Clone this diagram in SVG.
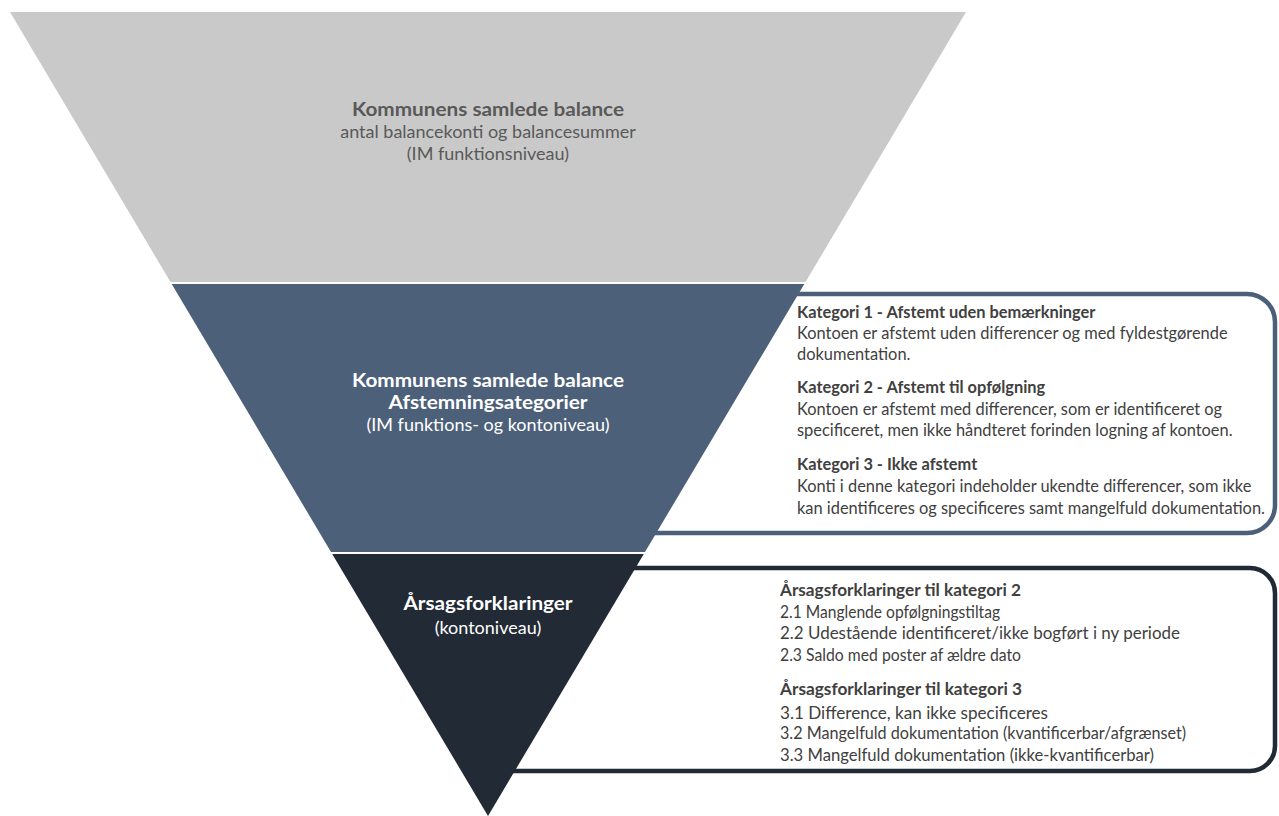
<svg xmlns="http://www.w3.org/2000/svg" width="1279" height="816" viewBox="0 0 1279 816">
<style>
text{font-family:Lato,"Open Sans","Liberation Sans",sans-serif}
.c{text-anchor:middle}
.b{font-weight:bold}
.tg{fill:#595959}
.tw{fill:#ffffff}
.h{font-size:19.5px}
.s{font-size:18px}
.bt{fill:#404040;font-size:16.4px}
.ct{fill:#404040;font-size:17.5px}
.box1{fill:#ffffff;stroke:#4b5f79;stroke-width:4.5}
.box2{fill:#ffffff;stroke:#222a35;stroke-width:4.5}
</style>
<rect width="1279" height="816" fill="#ffffff"/>
<g id="box-categories">
<path class="box1" d="M600 294 H1247 A28 28 0 0 1 1275 322 V505 A28 28 0 0 1 1247 533 H600 Z"/>
</g>
<g id="box-causes">
<path class="box2" d="M490 568 H1250 A25 25 0 0 1 1275 593 V746 A25 25 0 0 1 1250 771 H490 Z"/>
</g>
<g id="node-top">
<polygon points="10,12 966,12 805.5,282 170.5,282" fill="#c9c9c9"/>
<text class="c b tg h" x="488" y="116" textLength="272" lengthAdjust="spacingAndGlyphs">Kommunens samlede balance</text>
<text class="c tg s" x="488" y="138">antal balancekonti og balancesummer</text>
<text class="c tg s" x="488" y="160">(IM funktionsniveau)</text>
</g>
<g id="node-middle">
<polygon points="171.7,284 804.3,284 645,552 331,552" fill="#4d6079"/>
<text class="c b tw h" x="488" y="387" textLength="272" lengthAdjust="spacingAndGlyphs">Kommunens samlede balance</text>
<text class="c b tw h" x="488" y="409" textLength="199" lengthAdjust="spacingAndGlyphs">Afstemningsategorier</text>
<text class="c tw s" x="488" y="431">(IM funktions- og kontoniveau)</text>
</g>
<g id="node-bottom">
<polygon points="332.2,554 643.8,554 488,816" fill="#222a35"/>
<text class="c b tw h" x="488" y="610" textLength="169" lengthAdjust="spacingAndGlyphs">Årsagsforklaringer</text>
<text class="c tw s" x="488" y="634">(kontoniveau)</text>
</g>
<g id="text-categories">
<text class="bt b" x="797" y="318">Kategori 1 - Afstemt uden bemærkninger</text>
<text class="bt" x="797" y="339">Kontoen er afstemt uden differencer og med fyldestgørende</text>
<text class="bt" x="797" y="360">dokumentation.</text>
<text class="bt b" x="797" y="393">Kategori 2 - Afstemt til opfølgning</text>
<text class="bt" x="797" y="415">Kontoen er afstemt med differencer, som er identificeret og</text>
<text class="bt" x="797" y="436">specificeret, men ikke håndteret forinden logning af kontoen.</text>
<text class="bt b" x="797" y="470">Kategori 3 - Ikke afstemt</text>
<text class="bt" x="797" y="492">Konti i denne kategori indeholder ukendte differencer, som ikke</text>
<text class="bt" x="797" y="514">kan identificeres og specificeres samt mangelfuld dokumentation.</text>
</g>
<g id="text-causes">
<text class="ct b" x="780" y="596" textLength="241" lengthAdjust="spacingAndGlyphs">Årsagsforklaringer til kategori 2</text>
<text class="ct" x="780" y="618" textLength="220" lengthAdjust="spacingAndGlyphs">2.1 Manglende opfølgningstiltag</text>
<text class="ct" x="780" y="639" textLength="400" lengthAdjust="spacingAndGlyphs">2.2 Udestående identificeret/ikke bogført i ny periode</text>
<text class="ct" x="780" y="661" textLength="241" lengthAdjust="spacingAndGlyphs">2.3 Saldo med poster af ældre dato</text>
<text class="ct b" x="780" y="695" textLength="242" lengthAdjust="spacingAndGlyphs">Årsagsforklaringer til kategori 3</text>
<text class="ct" x="780" y="719" textLength="268" lengthAdjust="spacingAndGlyphs">3.1 Difference, kan ikke specificeres</text>
<text class="ct" x="780" y="739" textLength="406" lengthAdjust="spacingAndGlyphs">3.2 Mangelfuld dokumentation (kvantificerbar/afgrænset)</text>
<text class="ct" x="780" y="761" textLength="374" lengthAdjust="spacingAndGlyphs">3.3 Mangelfuld dokumentation (ikke-kvantificerbar)</text>
</g>
<g id="connectors"/>
</svg>
